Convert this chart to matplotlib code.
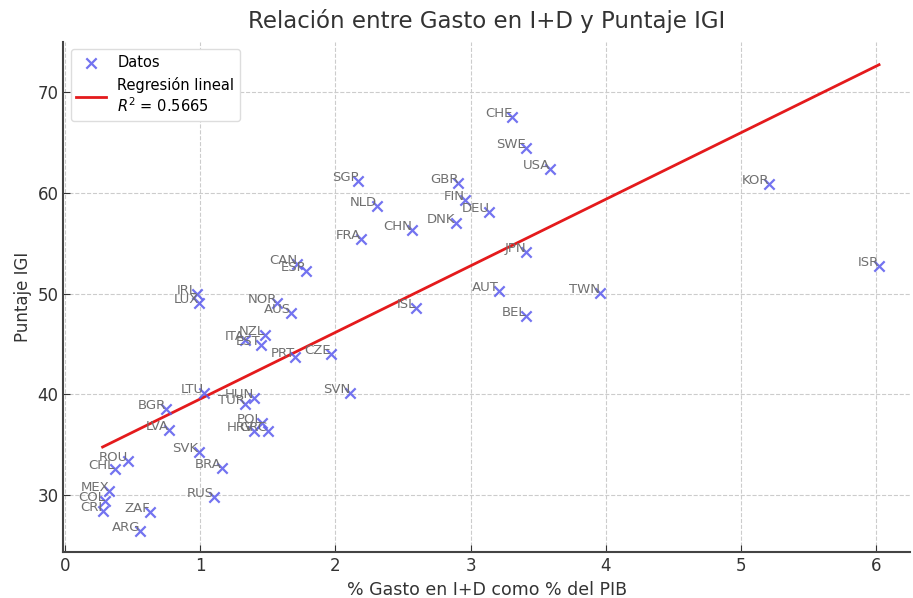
import numpy as np
import matplotlib
matplotlib.use("Agg")
import matplotlib.pyplot as plt

countries = ["CHE", "SWE", "USA", "SGP", "GBR", "FIN", "NLD", "DEU", "DNK", "CHN",
             "FRA", "JPN", "AUT", "ISL", "BEL", "KOR", "ISR", "TWN", "CAN", "ESP",
             "IRL", "LUX", "NOR", "AUS", "NZL", "ITA", "EST", "PRT", "CZE", "SVN",
             "LTU", "HUN", "TUR", "BGR", "POL", "HRV", "GRC", "LVA", "SVK", "ROU",
             "CHL", "BRA", "MEX", "RUS", "COL", "CRI", "ZAF", "ARG"]
gasto_id = [3.31, 3.41, 3.59, 2.17, 2.91, 2.96, 2.31, 3.14, 2.89, 2.57,
            2.19, 3.41, 3.21, 2.60, 3.41, 5.21, 6.02, 3.96, 1.72, 1.78,
            0.98, 0.99, 1.57, 1.67, 1.48, 1.33, 1.45, 1.70, 1.97, 2.11,
            1.03, 1.40, 1.33, 0.75, 1.46, 1.40, 1.50, 0.77, 0.99, 0.47,
            0.37, 1.16, 0.33, 1.10, 0.30, 0.28, 0.63, 0.56]
puntaje_igi = [67.5, 64.5, 62.4, 61.2, 61.0, 59.3, 58.7, 58.1, 57.0, 56.3,
               55.4, 54.1, 50.3, 48.6, 47.8, 60.9, 52.7, 50.1, 52.9, 52.2,
               50.0, 49.1, 49.1, 48.1, 45.9, 45.4, 44.9, 43.7, 44.0, 40.1,
               40.1, 39.6, 39.0, 38.5, 37.1, 36.3, 36.3, 36.4, 34.3, 33.4,
               32.6, 32.7, 30.4, 29.8, 29.4, 28.4, 28.3, 26.4]
r2_label = "0.5665"

x = np.array(gasto_id)
y = np.array(puntaje_igi)

fig = plt.figure(figsize=(9.13, 5.98), dpi=100)
ax = fig.add_axes([0.0694, 0.0764, 0.9275, 0.8536])

ax.scatter(x, y, marker="x", s=55, color="#5a5aee", alpha=0.85, linewidths=1.6,
           label="Datos", zorder=3)

coef = np.polyfit(x, y, 1)
xs = np.linspace(x.min(), x.max(), 100)
ax.plot(xs, np.polyval(coef, xs), color="#e41a1c", linewidth=2,
        label="Regresión lineal\n$R^2$ = " + r2_label, zorder=2)

for name, xi, yi in zip(countries, x, y):
    ax.text(xi, yi, name, fontsize=9.5, color="#707070", ha="right", va="baseline",
            zorder=4)

ax.set_title("Relación entre Gasto en I+D y Puntaje IGI", fontsize=16.5,
             color="#333333", pad=10)
ax.set_xlabel("% Gasto en I+D como % del PIB", fontsize=12.5, color="#333333")
ax.set_ylabel("Puntaje IGI", fontsize=12, color="#333333")
ax.set_xlim(-0.01, 6.25)
ax.set_ylim(24.3, 75.0)
ax.set_xticks([0, 1, 2, 3, 4, 5, 6])
ax.set_yticks([30, 40, 50, 60, 70])
ax.tick_params(direction="in", length=5, labelsize=12, colors="#333333")
ax.grid(True, linestyle="--", color="#cccccc", linewidth=0.8)
ax.set_axisbelow(True)
for s in ["top", "right"]:
    ax.spines[s].set_visible(False)
for s in ["left", "bottom"]:
    ax.spines[s].set_color("#444444")
    ax.spines[s].set_linewidth(1.5)

ax.legend(loc="upper left", fontsize=10.5, frameon=True, edgecolor="#dddddd",
          framealpha=1.0)

fig.savefig("out.png", dpi=100)
